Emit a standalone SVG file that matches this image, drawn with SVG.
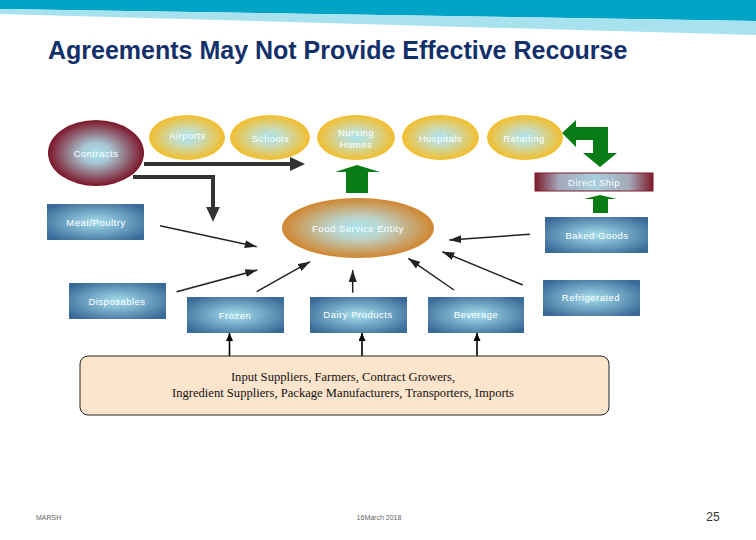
<svg xmlns="http://www.w3.org/2000/svg" width="756" height="540" viewBox="0 0 756 540">
<defs>
<style>
.lbl{font-family:"Liberation Sans",Arial,sans-serif;font-size:9.5px;fill:#ffffff;text-anchor:middle;letter-spacing:0.5px}
.thin{fill:none;stroke:#222;stroke-width:1.5;marker-end:url(#ah)}
.thick{fill:none;stroke:#333;stroke-width:4;marker-end:url(#ahBig)}
.up{fill:none;stroke:#000;stroke-width:1.6;marker-end:url(#ahUp)}
.green{fill:#0a7c16}
.foot{font-family:"Liberation Sans",Arial,sans-serif;font-size:7px;fill:#666}
.sup{font-family:"Liberation Serif","Times New Roman",serif;font-size:12.6px;fill:#111;text-anchor:middle}
</style>
<radialGradient id="gGold" cx="0.5" cy="0.5" r="0.5">
<stop offset="0" stop-color="#a6e2f0"/>
<stop offset="0.35" stop-color="#c6dcc0"/>
<stop offset="1" stop-color="#f3be2c"/>
</radialGradient>
<radialGradient id="gMaroon" cx="0.5" cy="0.5" r="0.5">
<stop offset="0" stop-color="#a6e0ee"/>
<stop offset="0.3" stop-color="#a8c8d4"/>
<stop offset="1" stop-color="#7c1428"/>
</radialGradient>
<radialGradient id="gOrange" cx="0.5" cy="0.5" r="0.5">
<stop offset="0" stop-color="#a6e2f0"/>
<stop offset="0.35" stop-color="#bcd4cc"/>
<stop offset="1" stop-color="#d08630"/>
</radialGradient>
<radialGradient id="gBlue" cx="0.5" cy="0.5" r="0.62">
<stop offset="0" stop-color="#a6e0ec"/>
<stop offset="0.3" stop-color="#86bcd4"/>
<stop offset="1" stop-color="#3a6a98"/>
</radialGradient>
<linearGradient id="gShip" x1="0" y1="0" x2="1" y2="0">
<stop offset="0" stop-color="#7c1a2c"/>
<stop offset="0.2" stop-color="#a4a8b8"/>
<stop offset="0.5" stop-color="#a6d0de"/>
<stop offset="0.8" stop-color="#a4a8b8"/>
<stop offset="1" stop-color="#7c1a2c"/>
</linearGradient>
<marker id="ah" markerUnits="userSpaceOnUse" markerWidth="12" markerHeight="8" refX="12" refY="4" orient="auto">
<path d="M0,0 L12,4 L0,8 z" fill="#222"/>
</marker>
<marker id="ahBig" markerUnits="userSpaceOnUse" markerWidth="16" markerHeight="14" refX="2" refY="7" orient="auto">
<path d="M0,0 L15,7 L0,14 z" fill="#333"/>
</marker>
<marker id="ahUp" markerUnits="userSpaceOnUse" markerWidth="8" markerHeight="7" refX="8" refY="3.5" orient="auto">
<path d="M0,0 L8,3.5 L0,7 z" fill="#000"/>
</marker>
</defs>
<rect x="0" y="0" width="756" height="540" fill="#ffffff"/>
<g id="banner">
<polygon points="0,0 756,0 756,21 0,9" fill="#00a4c6"/>
<polygon points="0,9 756,21 756,35 0,14" fill="#a8e2ee"/>
</g>
<text id="title" x="48" y="59" font-family="'Liberation Sans',Arial,sans-serif" font-size="25" font-weight="bold" fill="#13306b">Agreements May Not Provide Effective Recourse</text>

<g id="connectors">
<path class="thick" d="M144,164 H292"/>
<path class="thick" d="M133,177 H213 V208.7"/>
<path class="thin" d="M160,225.7 L256.7,246.7"/>
<path class="thin" d="M176.7,291.7 L257.3,270"/>
<path class="thin" d="M256.7,291.7 L310,261.7"/>
<path class="thin" d="M352.7,292.7 L352.7,270"/>
<path class="thin" d="M454,290 L408.3,258.3"/>
<path class="thin" d="M522.7,285 L442.3,251.7"/>
<path class="thin" d="M530,234.3 L449.3,240"/>
<path class="up" d="M229.5,356 V333"/>
<path class="up" d="M362,356 V333"/>
<path class="up" d="M477,356 V333"/>
<polygon id="greenUp1" class="green" points="357,165 380,172 368,172 368,193 346,193 346,172 335,172"/>
<polygon id="greenBent" class="green" points="562,133 576,120 576,127 608,127 608,153 617,153 600,167 583,153 593,153 593,140 576,140 576,147"/>
<polygon id="greenUp2" class="green" points="600,195 617,199 608,199 608,213 593,213 593,199 584,199"/>
</g>

<g id="contracts">
<ellipse cx="96" cy="153" rx="48" ry="33" fill="url(#gMaroon)"/>
<text class="lbl" x="96" y="157">Contracts</text>
</g>
<g id="airports">
<ellipse cx="187" cy="137.5" rx="38" ry="22.5" fill="url(#gGold)"/>
<text class="lbl" x="187.5" y="139">Airports</text>
</g>
<g id="schools">
<ellipse cx="270" cy="137.5" rx="40" ry="22.5" fill="url(#gGold)"/>
<text class="lbl" x="270.5" y="142">Schools</text>
</g>
<g id="nursing">
<ellipse cx="356" cy="137.5" rx="39" ry="22.5" fill="url(#gGold)"/>
<text class="lbl" x="356" y="136">Nursing</text>
<text class="lbl" x="356" y="147.5">Homes</text>
</g>
<g id="hospitals">
<ellipse cx="440.5" cy="137.5" rx="38.5" ry="22.5" fill="url(#gGold)"/>
<text class="lbl" x="440.5" y="142">Hospitals</text>
</g>
<g id="retailing">
<ellipse cx="525" cy="137.5" rx="38" ry="22.5" fill="url(#gGold)"/>
<text class="lbl" x="524" y="142">Retailing</text>
</g>
<g id="directship">
<rect x="535" y="173" width="118" height="18" fill="url(#gShip)" stroke="#7c1a2c" stroke-width="1"/>
<text class="lbl" x="594" y="185.5">Direct Ship</text>
</g>
<g id="foodservice">
<ellipse cx="358" cy="228" rx="76" ry="30" fill="url(#gOrange)"/>
<text class="lbl" x="358" y="232">Food Service Entity</text>
</g>
<g id="meat">
<rect x="47" y="204" width="97" height="36" fill="url(#gBlue)"/>
<text class="lbl" x="96" y="226">Meat/Poultry</text>
</g>
<g id="baked">
<rect x="545" y="217" width="103" height="36" fill="url(#gBlue)"/>
<text class="lbl" x="597" y="239">Baked Goods</text>
</g>
<g id="disposables">
<rect x="69" y="283" width="97" height="36" fill="url(#gBlue)"/>
<text class="lbl" x="117" y="304.5">Disposables</text>
</g>
<g id="refrigerated">
<rect x="543" y="280" width="97" height="36" fill="url(#gBlue)"/>
<text class="lbl" x="591" y="301">Refrigerated</text>
</g>
<g id="frozen">
<rect x="187" y="297" width="97" height="36" fill="url(#gBlue)"/>
<text class="lbl" x="235" y="318.5">Frozen</text>
</g>
<g id="dairy">
<rect x="310" y="297" width="97" height="36" fill="url(#gBlue)"/>
<text class="lbl" x="358" y="318">Dairy Products</text>
</g>
<g id="beverage">
<rect x="428" y="297" width="96" height="36" fill="url(#gBlue)"/>
<text class="lbl" x="476" y="318">Beverage</text>
</g>
<g id="suppliers">
<rect x="80" y="356" width="529" height="59" rx="8" ry="8" fill="#fde4cc" stroke="#222" stroke-width="1"/>
<text class="sup" x="343" y="381">Input Suppliers, Farmers, Contract Growers,</text>
<text class="sup" x="343" y="396.5">Ingredient Suppliers, Package Manufacturers, Transporters, Imports</text>
</g>
<g id="footer">
<text class="foot" x="36" y="520">MARSH</text>
<text class="foot" x="379" y="520" text-anchor="middle">16March 2018</text>
<text x="713" y="521" font-family="'Liberation Sans',Arial,sans-serif" font-size="12" fill="#333" text-anchor="middle">25</text>
</g>
</svg>
